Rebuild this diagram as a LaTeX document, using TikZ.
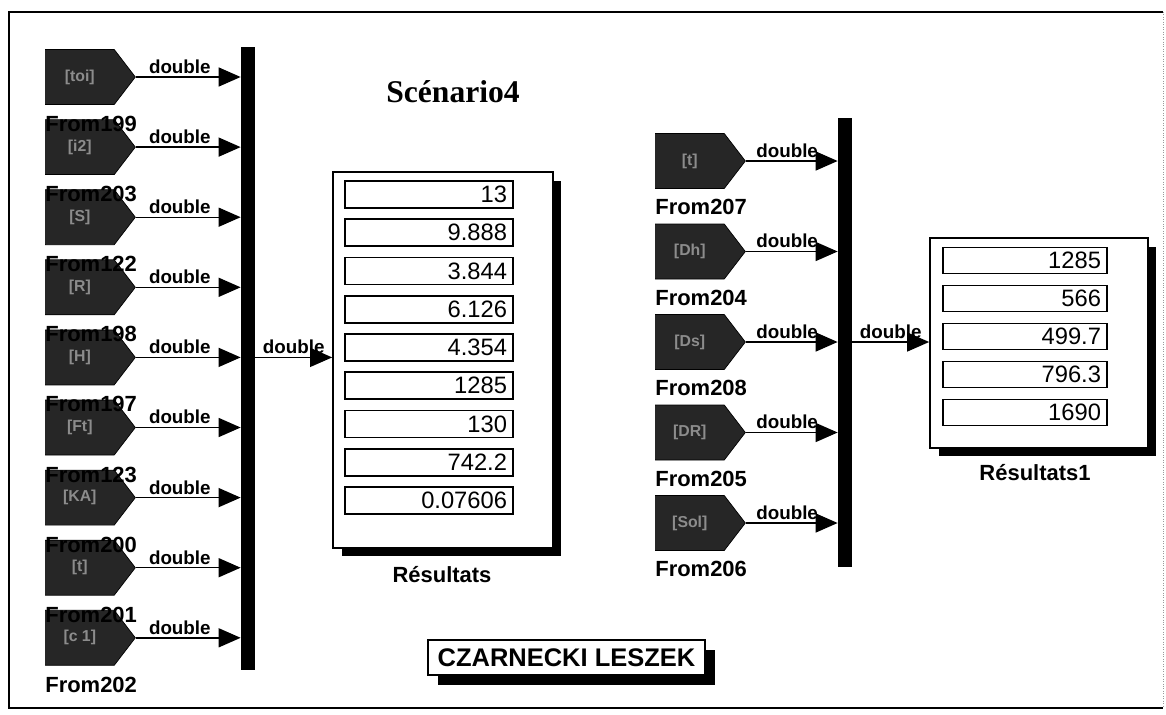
\documentclass[tikz,border=0pt]{standalone}
\usepackage{fontspec}
\setmainfont{Liberation Serif}
\setsansfont{Liberation Sans}
\usetikzlibrary{arrows.meta,shapes.symbols,shadows}
\definecolor{blockc}{HTML}{262626}
\definecolor{iconc}{HTML}{8C8C8C}
\definecolor{framec}{HTML}{9A9A9A}

\begin{document}
\begin{tikzpicture}[x=0.02cm, y=-0.02cm,
  frm/.style={signal, signal to=east, signal pointer angle=105, fill=blockc, draw=black,
    minimum width=1.8cm, minimum height=1.1cm, inner sep=0pt, anchor=west, text=iconc,
    font=\sffamily\bfseries\fontsize{9}{10}\selectfont},
  frmlbl/.style={anchor=west, inner sep=0pt, font=\sffamily\bfseries\fontsize{12.5}{14}\selectfont},
  dbl/.style={font=\sffamily\bfseries\fontsize{10.7}{12}\selectfont, inner sep=1.5pt},
  arr/.style={thick, -{Triangle[length=0.44cm, width=0.38cm]}},
  bus/.style={fill=black, inner sep=0pt, minimum width=0.28cm},
  display/.style={draw=black, line width=1pt, fill=white,
    drop shadow={shadow xshift=0.17cm, shadow yshift=-0.17cm, fill=black, opacity=1}},
  valbox/.style={draw=black, line width=1pt, text width=#1, align=right, inner xsep=0.12cm,
    inner ysep=0pt, minimum height=0.54cm, font=\sffamily\fontsize{13.5}{14}\selectfont}]
  \useasboundingbox (0,0) rectangle (1166,714);
  \draw[line width=1.6pt] (1163,12) -- (9,12) -- (9,708) -- (1163,708);
  \draw[framec, densely dotted] (1163,12) -- (1163,708);

  \node[font=\bfseries\fontsize{18}{20}\selectfont] (title) at (453,92) {Scénario4};

  % left side
  \node[bus, minimum height=12.46cm] (busL) at (248,358.5) {};
  \foreach \i/\ico in {1/[toi], 2/[i2], 3/[S], 4/[R], 5/[H], 6/[Ft], 7/[KA], 8/[t], 9/[c 1]}{
    \pgfmathsetmacro\yy{6.9+70.1*\i}
    \node[frm] (f\i) at (45,\yy) {\ico};
    \draw[arr] (f\i.east) -- (busL.west |- f\i.east) node[dbl, pos=0.42, above] {double};
  }
  \foreach \i/\lab in {1/From199, 2/From203, 3/From122, 4/From198, 5/From197,
      6/From123, 7/From200, 8/From201, 9/From202}{
    \pgfmathsetmacro\yy{53.9+70.1*\i}
    \node[frmlbl] (l\i) at (45,\yy) {\lab};
  }
  \node[display, minimum width=4.4cm, minimum height=7.52cm] (res) at (443,360) {};
  \draw[arr] (busL.east |- f5.east) -- (res.west |- f5.east) node[dbl, midway, above] {double};
  \foreach \v [count=\k] in {13, 9.888, 3.844, 6.126, 4.354, 1285, 130, 742.2, 0.07606}
    \node[valbox=3.12cm] (v\k) at (429,156.25+38.25*\k) {\v};
  \node[frmlbl, anchor=center] (reslbl) at (442,575) {Résultats};

  % right side
  \node[bus, minimum height=8.98cm] (busR) at (845,342.5) {};
  \foreach \i/\lab/\ico in {1/From207/[t], 2/From204/[Dh], 3/From208/[Ds], 4/From205/[DR], 5/From206/[Sol]}{
    \pgfmathsetmacro\yy{70.5+90.5*\i}
    \node[frm] (g\i) at (655,\yy) {\ico};
    \node[frmlbl] (m\i) at (655,\yy+46) {\lab};
    \draw[arr] (g\i.east) -- (busR.west |- g\i.east) node[dbl, pos=0.45, above] {double};
  }
  \node[display, minimum width=4.36cm, minimum height=4.2cm] (res1) at (1039,343) {};
  \draw[arr] (busR.east |- g3.east) -- (res1.west |- g3.east) node[dbl, midway, above] {double};
  \foreach \v [count=\k] in {1285, 566, 499.7, 796.3, 1690}
    \node[valbox=3.04cm, minimum height=0.52cm] (w\k) at (1025,222.5+38*\k) {\v};
  \node[frmlbl, anchor=center] (res1lbl) at (1035,473) {Résultats1};

  \node[draw, line width=1pt, fill=white, minimum width=5.54cm, minimum height=0.7cm,
    drop shadow={shadow xshift=0.2cm, shadow yshift=-0.2cm, fill=black, opacity=1},
    font=\sffamily\bfseries\fontsize{14.5}{16}\selectfont] (author) at (566.5,657.5) {CZARNECKI LESZEK};
\end{tikzpicture}
\end{document}
